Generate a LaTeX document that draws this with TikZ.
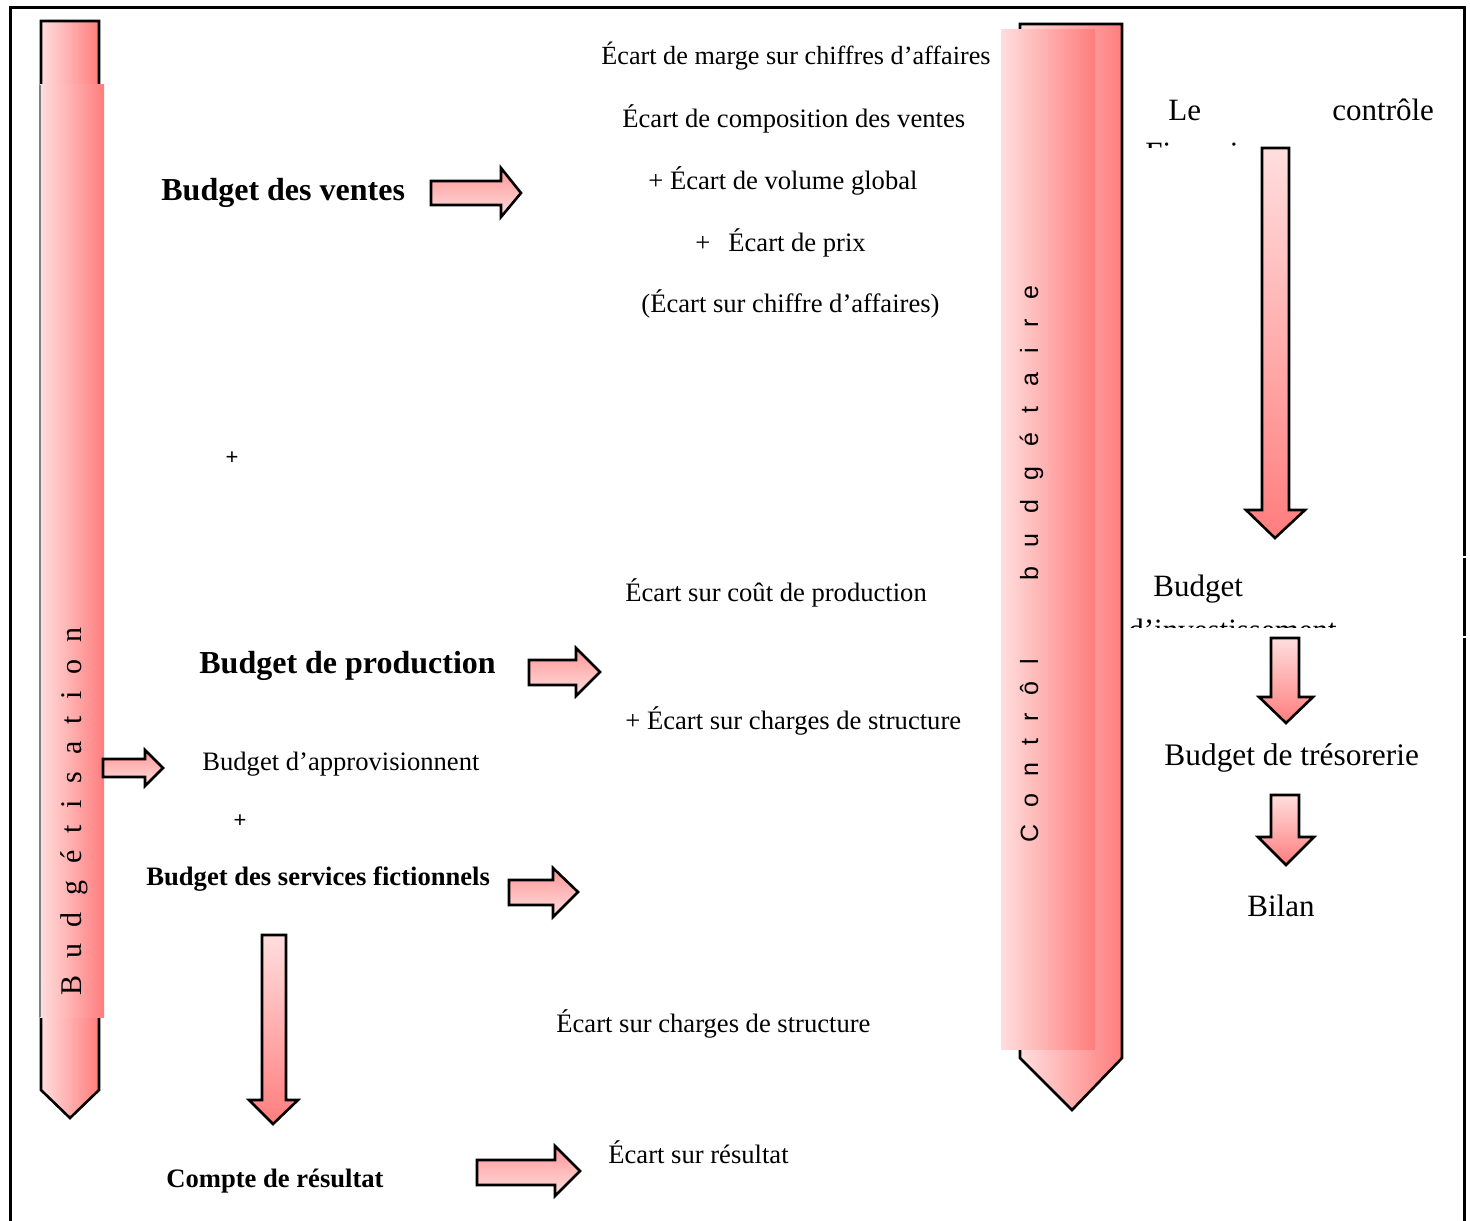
\documentclass[tikz,border=0pt]{standalone}
\usepackage{fontspec}
\setmainfont{Liberation Serif}
\newfontfamily\sansfam{Liberation Sans}

\definecolor{pinkL}{RGB}{255,222,222}
\definecolor{pinkD}{RGB}{255,125,125}
\definecolor{pinkM}{RGB}{255,150,150}

% letter spacing for the vertical captions
\newcommand\gp{\kern8.4pt}
\newcommand\gq{\kern8.6pt}
\newcommand\gr{\kern9.8pt}

\begin{document}
\begin{tikzpicture}[
  x=0.5pt, y=-0.5pt,
  outl/.style={draw=black, line width=1.3pt, line join=miter},
  hshade/.style={left color=pinkL, right color=pinkD},
  vshade/.style={top color=pinkL, bottom color=pinkD},
  rshade/.style={top color=pinkM, bottom color=pinkL},
  lbl/.style={anchor=base west, inner sep=0pt, font=\fontsize{13.3pt}{16pt}\selectfont},
  lblb/.style={lbl, font=\fontsize{13.3pt}{16pt}\selectfont\bfseries},
  headtxt/.style={lbl, font=\fontsize{16pt}{19pt}\selectfont\bfseries},
  sidetxt/.style={lbl, font=\fontsize{15.5pt}{18pt}\selectfont},
  plustxt/.style={inner sep=0pt, font=\sansfam\fontsize{11pt}{13pt}\selectfont},
]
\useasboundingbox (0,0) rectangle (1470,1220);

% outer frame
\draw[line width=1.5pt] (10,1225) -- (10,8) -- (1464,8) -- (1464,556);
\draw[line width=1.5pt] (1464,558) -- (1464,636);
\draw[line width=1.5pt] (1464,638) -- (1464,1225);

% left column: budgeting
\path[outl, hshade] (41,21) -- (99,21) -- (99,1090) -- (70,1118) -- (41,1090) -- cycle;
\fill[hshade] (40,85) rectangle (104,1017);
\draw[gray, line width=0.6pt] (40,85) -- (40,1017);
\node[rotate=90, anchor=base west, inner sep=0pt, font=\fontsize{15pt}{18pt}\selectfont] (budgetisation) at (81,996)
  {B\gp u\gp d\gp g\gp é\gp t\gp i\gp s\gp a\gp t\gp i\gp o\gp n};

% right column: budget control
\path[outl, hshade] (1020,24) -- (1122,24) -- (1122,1058) -- (1072,1110) -- (1020,1058) -- cycle;
\fill[hshade] (1001,30) rectangle (1095,1049);
\node[rotate=90, anchor=base west, inner sep=0pt, font=\sansfam\fontsize{12.5pt}{15pt}\selectfont] (controle) at (1038,843)
  {C\gq o\gq n\gq t\gq r\gq ô\gq l};
\node[rotate=90, anchor=base west, inner sep=0pt, font=\sansfam\fontsize{12.5pt}{15pt}\selectfont] (budgetaire) at (1038,581)
  {b\gr u\gr d\gr g\gr é\gr t\gr a\gr i\gr r\gr e};

% horizontal block arrows
\path[outl, rshade] (431,181) -- (501,181) -- (501,168) -- (521,193) -- (501,217) -- (501,205) -- (431,205) -- cycle;
\path[outl, rshade] (529,660) -- (576,660) -- (576,648) -- (600,672) -- (576,696) -- (576,685) -- (529,685) -- cycle;
\path[outl, rshade] (103,759) -- (145,759) -- (145,750) -- (163,768) -- (145,786) -- (145,777) -- (103,777) -- cycle;
\path[outl, rshade] (509,880) -- (553,880) -- (553,868) -- (578,892) -- (553,917) -- (553,905) -- (509,905) -- cycle;
\path[outl, rshade] (477,1160) -- (555,1160) -- (555,1146) -- (580,1171) -- (555,1196) -- (555,1185) -- (477,1185) -- cycle;

% downward block arrows
\path[outl, vshade] (1262,148) -- (1289,148) -- (1289,510) -- (1305,510) -- (1275,538) -- (1246,510) -- (1262,510) -- cycle;
\path[outl, vshade] (1271,638) -- (1299,638) -- (1299,697) -- (1313,697) -- (1286,723) -- (1259,697) -- (1271,697) -- cycle;
\path[outl, vshade] (1271,795) -- (1299,795) -- (1299,837) -- (1314,837) -- (1286,865) -- (1258,837) -- (1271,837) -- cycle;
\path[outl, vshade] (262,935) -- (286,935) -- (286,1100) -- (298,1100) -- (273,1124) -- (249,1100) -- (262,1100) -- cycle;

% budgets
\node[headtxt] (ventes) at (161,200) {Budget des ventes};
\node[plustxt] (plus1) at (232,458) {+};
\node[headtxt] (production) at (199,673) {Budget de production};
\node[lbl] (appro) at (202,770) {Budget d’approvisionnent};
\node[plustxt] (plus2) at (240,821) {+};
\node[lblb] (services) at (146,885) {Budget des services fictionnels};
\node[lblb] (resultat) at (166,1187) {Compte de résultat};

% variances
\node[lbl, font=\fontsize{13.1pt}{16pt}\selectfont] (marge) at (601,65) {Écart de marge sur chiffres d’affaires};
\node[lbl] (compo) at (622,127) {Écart de composition des ventes};
\node[lbl] (volume) at (648,189) {+ Écart de volume global};
\node[lbl] (prix) at (695,251) {+\hspace{9pt}Écart de prix};
\node[lbl] (ca) at (641,312) {(Écart sur chiffre d’affaires)};
\node[lbl] (cout) at (625,601) {Écart sur coût de production};
\node[lbl] (struct1) at (625,729) {+ Écart sur charges de structure};
\node[lbl] (struct2) at (556,1032) {Écart sur charges de structure};
\node[lbl] (ecres) at (608,1163) {Écart sur résultat};

% financial control
\node[sidetxt] (le) at (1168,120) {Le};
\node[sidetxt] (ctrlfin) at (1332,120) {contrôle};
\begin{scope}
  \clip (1100,128) rectangle (1460,147);
  \node[sidetxt] (financier) at (1145,163) {Financier};
\end{scope}
\node[sidetxt] (binv) at (1153,596) {Budget};
\begin{scope}
  \clip (1100,605) rectangle (1460,627);
  \node[sidetxt] (invest) at (1128,640) {d’investissement};
\end{scope}
\node[sidetxt, font=\fontsize{15.7pt}{18pt}\selectfont] (treso) at (1164,765) {Budget de trésorerie};
\node[sidetxt] (bilan) at (1247,916) {Bilan};
\end{tikzpicture}
\end{document}
